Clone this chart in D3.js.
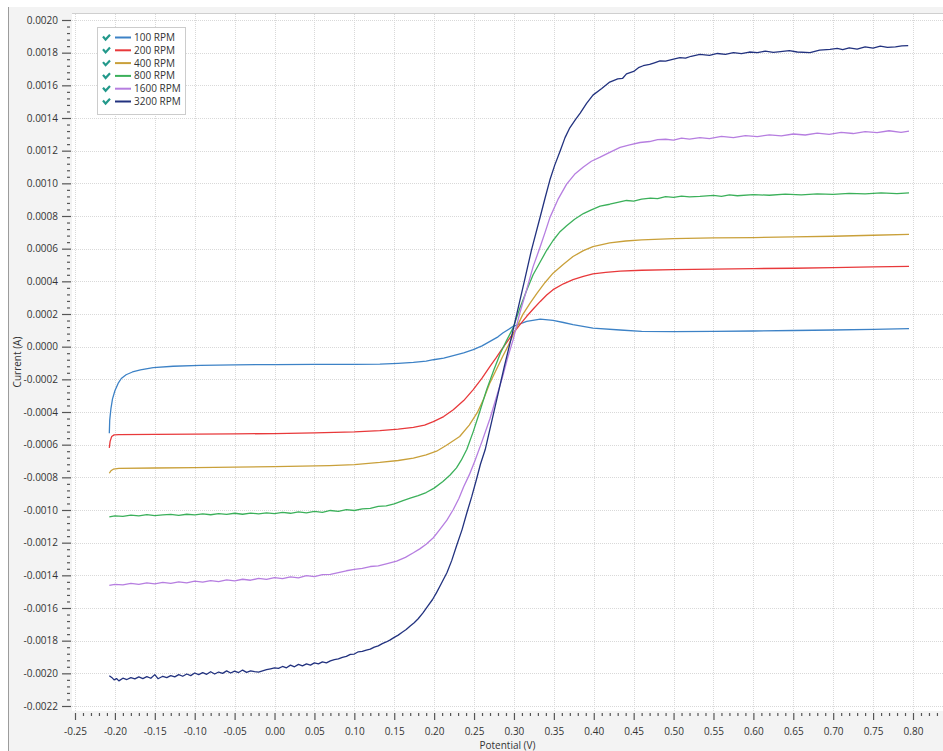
<!DOCTYPE html>
<html>
<head>
<meta charset="utf-8">
<script src="https://cdn.jsdelivr.net/npm/d3@7"></script>
<style>
  body { margin: 0; background: #fff; }
  svg text { font-family: "Segoe UI", "Open Sans", sans-serif; fill: #333; }
</style>
</head>
<body>
<div id="chart"></div>
<script>
// Rotating disk voltammograms, current vs potential, one series per rotation rate
const seriesNames = ["100 RPM", "200 RPM", "400 RPM", "800 RPM", "1600 RPM", "3200 RPM"];
const seriesColors = ["#3d82c6", "#e8393b", "#c9a03a", "#3bb05a", "#b67ee0", "#22327f"];

const xTickValues = [-0.25, -0.20, -0.15, -0.10, -0.05, 0.00, 0.05, 0.10, 0.15, 0.20, 0.25,
  0.30, 0.35, 0.40, 0.45, 0.50, 0.55, 0.60, 0.65, 0.70, 0.75, 0.80];
const yTickValues = [-0.0022, -0.0020, -0.0018, -0.0016, -0.0014, -0.0012, -0.0010, -0.0008,
  -0.0006, -0.0004, -0.0002, 0.0000, 0.0002, 0.0004, 0.0006, 0.0008, 0.0010, 0.0012,
  0.0014, 0.0016, 0.0018, 0.0020];

// [potential (V), current (A)]
const rpm100 = [[-0.207,-0.00053],[-0.2065,-0.00045],[-0.205,-0.00038],[-0.203,-0.00032],[-0.200,-0.00027],
  [-0.196,-0.000225],[-0.192,-0.000195],[-0.186,-0.000172],[-0.178,-0.000155],[-0.168,-0.000142],
  [-0.152,-0.000128],[-0.127,-0.00012],[-0.093,-0.000114],[-0.05,-0.000111],[0.0,-0.00011],
  [0.05,-0.000108],[0.10,-0.000108],[0.132,-0.000107],[0.155,-0.000102],[0.174,-0.000096],
  [0.19,-0.000088],[0.199,-0.00008],[0.212,-0.00007],[0.224,-0.000055],[0.237,-0.000038],
  [0.249,-0.000018],[0.26,0.000005],[0.270,0.000032],[0.28,0.00006],[0.286,0.000084],
  [0.299,0.000124],[0.316,0.000155],[0.333,0.000169],[0.349,0.000161],[0.362,0.000148],
  [0.374,0.000135],[0.399,0.000114],[0.433,0.000102],[0.46,0.000094],[0.50,0.000092],
  [0.55,0.000094],[0.60,0.000096],[0.65,0.000099],[0.70,0.000102],[0.75,0.000106],[0.795,0.00011]];

const rpm200 = [[-0.207,-0.00062],[-0.206,-0.00058],[-0.204,-0.00055],[-0.201,-0.00054],[-0.195,-0.000538],
  [-0.15,-0.000537],[-0.10,-0.000536],[-0.05,-0.000534],[0.0,-0.000532],[0.05,-0.000528],
  [0.10,-0.000522],[0.132,-0.000514],[0.155,-0.000505],[0.174,-0.000494],[0.188,-0.00048],
  [0.199,-0.000459],[0.212,-0.000428],[0.224,-0.000386],[0.237,-0.00033],[0.249,-0.000263],
  [0.260,-0.000193],[0.270,-0.00012],[0.278,-0.000066],[0.286,-0.000008],[0.293,0.00004],
  [0.299,0.000082],[0.308,0.000138],[0.316,0.000186],[0.325,0.000235],[0.333,0.000277],
  [0.341,0.000316],[0.349,0.000349],[0.362,0.000385],[0.374,0.00041],[0.387,0.00043],
  [0.399,0.000446],[0.415,0.000455],[0.433,0.000462],[0.46,0.000468],[0.50,0.000472],
  [0.55,0.000475],[0.60,0.000478],[0.65,0.00048],[0.70,0.000484],[0.75,0.000488],[0.795,0.000492]];

const rpm400 = [[-0.207,-0.000775],[-0.205,-0.00076],[-0.202,-0.00075],[-0.195,-0.000745],[-0.15,-0.000743],
  [-0.10,-0.00074],[-0.05,-0.000737],[0.0,-0.000735],[0.069,-0.000728],[0.10,-0.000722],
  [0.132,-0.000709],[0.155,-0.000697],[0.174,-0.000682],[0.19,-0.000662],[0.203,-0.00064],
  [0.215,-0.000605],[0.232,-0.00055],[0.244,-0.00048],[0.254,-0.000404],[0.262,-0.00032],
  [0.270,-0.00022],[0.278,-0.00014],[0.286,-0.000059],[0.293,0.000008],[0.299,0.000073],
  [0.305,0.000135],[0.311,0.000196],[0.320,0.000265],[0.329,0.000328],[0.339,0.000393],
  [0.349,0.00045],[0.362,0.000505],[0.374,0.000552],[0.387,0.000588],[0.399,0.000613],
  [0.42,0.000636],[0.44,0.000647],[0.46,0.000654],[0.50,0.000662],[0.55,0.000666],
  [0.60,0.000668],[0.65,0.000672],[0.70,0.000676],[0.75,0.000682],[0.795,0.000688]];

const rpm800 = [[-0.207,-0.001042],[-0.200,-0.001036],[-0.19,-0.001039],[-0.18,-0.001031],[-0.17,-0.001036],
  [-0.16,-0.001028],[-0.15,-0.001034],[-0.14,-0.00103],[-0.13,-0.001027],[-0.12,-0.001033],
  [-0.11,-0.001026],[-0.10,-0.00103],[-0.09,-0.001024],[-0.08,-0.001029],[-0.07,-0.001022],
  [-0.06,-0.001027],[-0.05,-0.00102],[-0.04,-0.001026],[-0.03,-0.001019],[-0.02,-0.001024],
  [-0.01,-0.001017],[0.00,-0.001022],[0.01,-0.001015],[0.02,-0.00102],[0.03,-0.001012],
  [0.04,-0.001017],[0.05,-0.001009],[0.06,-0.001014],[0.07,-0.001003],[0.08,-0.001008],
  [0.09,-0.000998],[0.10,-0.001003],[0.11,-0.000993],[0.12,-0.00099],[0.13,-0.000978],
  [0.14,-0.000975],[0.15,-0.000962],[0.161,-0.000942],[0.17,-0.000928],[0.18,-0.000912],
  [0.19,-0.000893],[0.20,-0.000866],[0.211,-0.000826],[0.22,-0.000786],[0.228,-0.000742],
  [0.234,-0.000695],[0.241,-0.000628],[0.249,-0.00052],[0.257,-0.0004],[0.266,-0.00026],
  [0.275,-0.00014],[0.283,-0.00004],[0.291,0.00004],[0.299,0.000115],[0.307,0.00023],
  [0.316,0.000345],[0.324,0.00044],[0.333,0.00052],[0.341,0.00059],[0.349,0.00065],
  [0.357,0.0007],[0.366,0.00074],[0.376,0.00078],[0.387,0.000815],[0.397,0.000838],
  [0.408,0.00086],[0.42,0.000872],[0.43,0.000884],[0.441,0.000895],[0.45,0.000891],
  [0.46,0.000903],[0.471,0.00091],[0.48,0.000906],[0.49,0.000918],[0.50,0.000914],
  [0.51,0.000922],[0.52,0.000917],[0.533,0.00092],[0.55,0.000926],[0.56,0.00092],
  [0.57,0.000929],[0.58,0.000924],[0.60,0.000931],[0.62,0.000927],[0.64,0.000934],
  [0.66,0.000929],[0.68,0.000936],[0.70,0.000933],[0.72,0.000939],[0.74,0.000935],
  [0.76,0.000942],[0.78,0.000937],[0.795,0.000942]];

const rpm1600 = [[-0.207,-0.001462],[-0.20,-0.001455],[-0.19,-0.001458],[-0.18,-0.001449],[-0.17,-0.001455],
  [-0.16,-0.001446],[-0.15,-0.001452],[-0.14,-0.001443],[-0.13,-0.001449],[-0.12,-0.00144],
  [-0.11,-0.001446],[-0.10,-0.001436],[-0.09,-0.001442],[-0.08,-0.001432],[-0.07,-0.001438],
  [-0.06,-0.001428],[-0.05,-0.001434],[-0.04,-0.001424],[-0.03,-0.00143],[-0.02,-0.001419],
  [-0.01,-0.001425],[0.00,-0.001414],[0.01,-0.00142],[0.02,-0.00141],[0.03,-0.001415],
  [0.04,-0.001402],[0.05,-0.001408],[0.06,-0.001396],[0.07,-0.001394],[0.08,-0.001383],
  [0.09,-0.001372],[0.10,-0.001364],[0.11,-0.001357],[0.12,-0.001346],[0.13,-0.001342],
  [0.14,-0.00133],[0.153,-0.001313],[0.164,-0.00129],[0.174,-0.001262],[0.182,-0.001238],
  [0.19,-0.00121],[0.199,-0.00117],[0.207,-0.00112],[0.216,-0.001062],[0.224,-0.000997],
  [0.231,-0.00093],[0.237,-0.000858],[0.244,-0.000785],[0.251,-0.0007],[0.26,-0.00058],
  [0.270,-0.00044],[0.278,-0.00031],[0.286,-0.00018],[0.292,-0.00007],[0.299,0.000043],
  [0.307,0.0002],[0.316,0.00035],[0.324,0.00049],[0.333,0.000613],[0.339,0.0007],
  [0.345,0.00079],[0.355,0.0009],[0.366,0.000995],[0.376,0.001055],[0.387,0.0011],
  [0.397,0.001135],[0.408,0.00116],[0.42,0.00119],[0.433,0.00122],[0.445,0.001236],
  [0.458,0.00125],[0.47,0.001256],[0.48,0.001268],[0.49,0.00127],[0.50,0.001264],
  [0.51,0.001277],[0.52,0.001271],[0.533,0.00128],[0.545,0.001274],[0.56,0.001287],
  [0.575,0.00128],[0.59,0.001292],[0.605,0.001286],[0.62,0.001297],[0.635,0.00129],
  [0.65,0.001302],[0.665,0.001296],[0.68,0.001308],[0.695,0.0013],[0.71,0.001312],
  [0.725,0.001305],[0.74,0.001317],[0.755,0.00131],[0.77,0.001322],[0.785,0.001312],[0.795,0.00132]];

const rpm3200 = [[-0.207,-0.002015],[-0.204,-0.002025],[-0.201,-0.00204],[-0.198,-0.002032],[-0.195,-0.002046],
  [-0.19,-0.00203],[-0.185,-0.002038],[-0.18,-0.002026],[-0.175,-0.002034],[-0.17,-0.002022],
  [-0.165,-0.002032],[-0.16,-0.00202],[-0.155,-0.00203],[-0.15,-0.002008],[-0.146,-0.002033],
  [-0.14,-0.002018],[-0.135,-0.002026],[-0.13,-0.002014],[-0.125,-0.002022],[-0.12,-0.002008],
  [-0.115,-0.002018],[-0.11,-0.002004],[-0.105,-0.002014],[-0.10,-0.001998],[-0.095,-0.002008],
  [-0.09,-0.001996],[-0.085,-0.002006],[-0.08,-0.00199],[-0.075,-0.002004],[-0.07,-0.001992],
  [-0.065,-0.002],[-0.06,-0.001985],[-0.055,-0.001998],[-0.05,-0.001986],[-0.045,-0.001995],
  [-0.04,-0.00198],[-0.035,-0.001994],[-0.03,-0.001985],[-0.025,-0.00199],[-0.02,-0.001992],
  [-0.015,-0.001985],[-0.01,-0.001978],[-0.005,-0.001972],[0.0,-0.001966],[0.005,-0.00197],
  [0.01,-0.001958],[0.015,-0.001966],[0.02,-0.00195],[0.025,-0.00196],[0.03,-0.001945],
  [0.035,-0.001954],[0.04,-0.001942],[0.045,-0.00195],[0.05,-0.001936],[0.055,-0.001942],
  [0.06,-0.00193],[0.065,-0.001936],[0.07,-0.001924],[0.075,-0.001916],[0.08,-0.001912],
  [0.085,-0.001902],[0.09,-0.001896],[0.095,-0.001884],[0.10,-0.001882],[0.105,-0.001868],
  [0.11,-0.001866],[0.115,-0.001858],[0.12,-0.001852],[0.125,-0.00184],[0.13,-0.001832],
  [0.135,-0.001818],[0.14,-0.001808],[0.145,-0.001795],[0.15,-0.00178],[0.155,-0.001766],
  [0.16,-0.001748],[0.165,-0.001732],[0.17,-0.00171],[0.175,-0.00169],[0.18,-0.001666],
  [0.186,-0.00163],[0.192,-0.001588],[0.198,-0.001548],[0.203,-0.001506],[0.209,-0.00145],
  [0.216,-0.001384],[0.222,-0.00131],[0.228,-0.00122],[0.235,-0.00112],[0.241,-0.001017],
  [0.247,-0.00092],[0.253,-0.000813],[0.258,-0.00072],[0.264,-0.00063],[0.272,-0.00046],
  [0.280,-0.00029],[0.288,-0.00012],[0.296,0.00004],[0.304,0.00021],[0.313,0.0004],
  [0.322,0.000593],[0.333,0.000797],[0.339,0.00091],[0.345,0.00102],[0.351,0.00111],
  [0.358,0.0012],[0.364,0.00128],[0.37,0.00134],[0.377,0.00139],[0.383,0.00143],
  [0.391,0.00149],[0.399,0.00154],[0.41,0.00158],[0.42,0.00162],[0.43,0.00164],
  [0.436,0.001642],[0.441,0.00167],[0.45,0.001685],[0.456,0.001708],[0.462,0.00172],
  [0.47,0.001728],[0.476,0.001738],[0.483,0.00175],[0.49,0.001748],[0.50,0.00176],
  [0.508,0.00177],[0.515,0.001766],[0.522,0.001778],[0.533,0.00179],[0.545,0.001784],
  [0.555,0.001795],[0.565,0.001789],[0.575,0.0018],[0.585,0.001794],[0.595,0.001804],
  [0.605,0.0018],[0.615,0.00181],[0.625,0.001802],[0.634,0.001806],[0.645,0.001812],
  [0.655,0.001804],[0.671,0.0018],[0.683,0.001816],[0.696,0.00182],[0.705,0.001826],
  [0.712,0.001818],[0.72,0.00183],[0.73,0.001822],[0.74,0.001836],[0.75,0.001828],
  [0.759,0.00184],[0.768,0.001832],[0.778,0.001836],[0.786,0.001842],[0.794,0.001843]];

const allSeries = [rpm100, rpm200, rpm400, rpm800, rpm1600, rpm3200];

const width = 943, height = 751;
const plot = {left: 72, top: 13, right: 943, bottom: 711};

let svg = d3.select("#chart")
  .append("svg")
  .attr("width", width)
  .attr("height", height);

// frame background
svg.append("rect")
  .attr("x", 8).attr("y", 7)
  .attr("width", width - 8).attr("height", height - 7)
  .attr("fill", "#f3f3f3");
svg.append("line")
  .attr("x1", 8.5).attr("x2", 8.5).attr("y1", 7).attr("y2", height)
  .attr("stroke", "#9c9c9c");

// plot area
svg.append("rect")
  .attr("x", plot.left).attr("y", plot.top)
  .attr("width", plot.right - plot.left).attr("height", plot.bottom - plot.top)
  .attr("fill", "#fff");
svg.append("line")
  .attr("x1", plot.left).attr("x2", plot.right)
  .attr("y1", plot.top + 0.5).attr("y2", plot.top + 0.5)
  .attr("stroke", "#cfcfcf");

let x = d3.scaleLinear()
  .domain([-0.25, 0.80])
  .range([75, 913]);

let y = d3.scaleLinear()
  .domain([-0.0022, 0.0020])
  .range([706, 20]);

// gridlines
let grid = svg.append("g")
  .attr("stroke", "#d9d9d9")
  .attr("stroke-dasharray", "1,1");
grid.selectAll(".gx").data(xTickValues).enter()
  .append("line")
  .attr("x1", d => Math.round(x(d)) + 0.5).attr("x2", d => Math.round(x(d)) + 0.5)
  .attr("y1", plot.top + 1).attr("y2", plot.bottom);
grid.selectAll(".gy").data(yTickValues).enter()
  .append("line")
  .attr("x1", plot.left).attr("x2", plot.right)
  .attr("y1", d => Math.round(y(d)) + 0.5).attr("y2", d => Math.round(y(d)) + 0.5);

// x axis (major + minor)
let fmtX = d3.format(".2f");
let xAxis = svg.append("g")
  .attr("transform", `translate(0, ${plot.bottom + 2})`)
  .call(d3.axisBottom(x).tickValues(xTickValues).tickSize(7).tickSizeOuter(0)
    .tickPadding(8).tickFormat(d => fmtX(d).replace("−", "-")));
let xMinor = svg.append("g")
  .attr("transform", `translate(0, ${plot.bottom + 2})`)
  .call(d3.axisBottom(x).tickValues(d3.range(-25, 84).filter(d => d % 5 !== 0).map(d => d / 100))
    .tickSize(3).tickSizeOuter(0).tickFormat(""));

// y axis (major + minor)
let fmtY = d3.format(".4f");
let yAxis = svg.append("g")
  .attr("transform", `translate(${plot.left - 1}, 0)`)
  .call(d3.axisLeft(y).tickValues(yTickValues).tickSize(9).tickSizeOuter(0)
    .tickPadding(4).tickFormat(d => fmtY(d).replace("−", "-")));
let yMinor = svg.append("g")
  .attr("transform", `translate(${plot.left - 2}, 0)`)
  .call(d3.axisLeft(y).tickValues(d3.range(-55, 51).filter(d => d % 5 !== 0).map(d => d * 0.00004))
    .tickSize(3).tickSizeOuter(0).tickFormat(""));

[xAxis, xMinor, yAxis, yMinor].forEach(g => {
  g.select(".domain").remove();
  g.selectAll(".tick line").attr("stroke", "#555").attr("stroke-width", 1.2);
  g.selectAll(".tick text").style("font-size", "10px").attr("fill", "#333");
});

// axis titles
svg.append("text")
  .attr("transform", `translate(21, ${(plot.top + plot.bottom) / 2}) rotate(-90)`)
  .style("text-anchor", "middle")
  .style("font-size", "10px")
  .text("Current (A)");
svg.append("text")
  .attr("x", (plot.left + plot.right) / 2)
  .attr("y", 748.5)
  .style("text-anchor", "middle")
  .style("font-size", "10px")
  .text("Potential (V)");

// curves
svg.append("clipPath").attr("id", "clip")
  .append("rect")
  .attr("x", plot.left).attr("y", plot.top)
  .attr("width", plot.right - plot.left).attr("height", plot.bottom - plot.top);

let line = d3.line()
  .x(d => x(d[0]))
  .y(d => y(d[1]));

svg.append("g").attr("clip-path", "url(#clip)")
  .selectAll("path").data(allSeries).enter()
  .append("path")
  .attr("d", line)
  .attr("fill", "none")
  .attr("stroke", (d, i) => seriesColors[i])
  .attr("stroke-width", 1.3)
  .attr("stroke-linejoin", "round");

// legend
let legend = svg.append("g").attr("transform", "translate(97, 27)");
legend.append("rect")
  .attr("x", 0.5).attr("y", 0.5)
  .attr("width", 88).attr("height", 87)
  .attr("fill", "#fff")
  .attr("stroke", "#cccccc");

let rows = legend.selectAll(".row").data(seriesNames).enter()
  .append("g")
  .attr("transform", (d, i) => `translate(0, ${12 + i * 12.8})`);
rows.append("path")
  .attr("d", "M6,-2.5 L8.6,0.6 L13,-4.2")
  .attr("fill", "none")
  .attr("stroke", "#23998b")
  .attr("stroke-width", 2.2);
rows.append("line")
  .attr("x1", 18).attr("x2", 34)
  .attr("y1", -1.5).attr("y2", -1.5)
  .attr("stroke", (d, i) => seriesColors[i])
  .attr("stroke-width", 2);
rows.append("text")
  .attr("x", 37)
  .attr("y", 2)
  .style("font-size", "10px")
  .attr("fill", "#222")
  .text(d => d);
</script>
</body>
</html>
